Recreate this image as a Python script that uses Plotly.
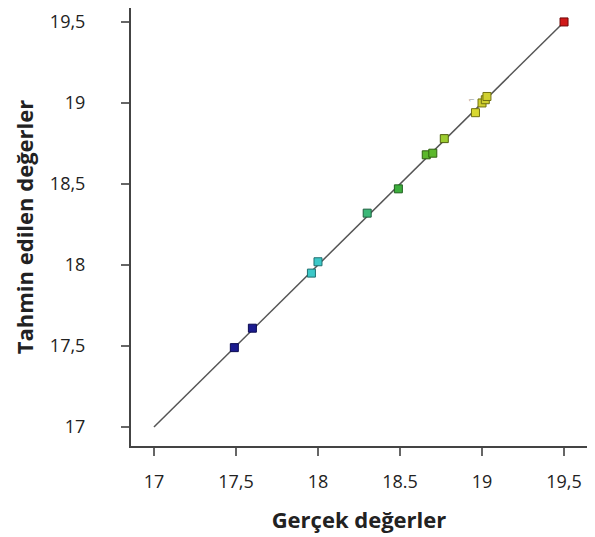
import plotly.graph_objects as go

actual = [17.49, 17.60, 17.96, 18.00, 18.30, 18.49, 18.66, 18.70, 18.77, 18.96, 19.00, 19.02, 19.03, 19.50]
predicted = [17.49, 17.61, 17.95, 18.02, 18.32, 18.47, 18.68, 18.69, 18.78, 18.94, 19.00, 19.02, 19.04, 19.50]
point_colors = ["#1c1c8f", "#1c1c8f", "#3cc8c8", "#3cc8c8", "#3cb878", "#3cae3c", "#5cb82c",
                "#5cb82c", "#9ccc30", "#d8d830", "#d0d030", "#d0d030", "#d0d030", "#d01818"]
edge_colors = ["#0a0a50", "#0a0a50", "#207070", "#207070", "#206040", "#206020", "#306010",
               "#306010", "#506010", "#707010", "#707010", "#707010", "#707010", "#700808"]

line_x = [17, 19.5]
line_y = [17, 19.5]

x_tickvals = [17, 17.5, 18, 18.5, 19, 19.5]
x_ticktext = ["17", "17,5", "18", "18.5", "19", "19,5"]
y_tickvals = [17, 17.5, 18, 18.5, 19, 19.5]
y_ticktext = ["17", "17,5", "18", "18,5", "19", "19,5"]

fig = go.Figure()
fig.add_trace(go.Scatter(x=line_x, y=line_y, mode="lines",
                         line=dict(color="#555555", width=1.5), showlegend=False, hoverinfo="skip"))
fig.add_trace(go.Scatter(x=actual, y=predicted, mode="markers",
                         marker=dict(symbol="square", size=8, color=point_colors,
                                     line=dict(color=edge_colors, width=1)),
                         showlegend=False))

fig.add_annotation(x=18.93, y=19.02, text="1", showarrow=False,
                   font=dict(size=8, color="#888888"), textangle=-90)

font_family = "'Open Sans', Lato, sans-serif"
fig.update_layout(
    width=595, height=537,
    margin=dict(l=123, r=16, t=0, b=99, autoexpand=False),
    paper_bgcolor="white", plot_bgcolor="white",
    font=dict(family=font_family, color="#222222"),
    xaxis=dict(range=[16.86, 19.64], tickvals=x_tickvals, ticktext=x_ticktext,
               showgrid=False, zeroline=False, showline=True, mirror=True,
               linecolor="#444444", linewidth=2, ticks="outside", ticklen=8,
               tickcolor="#666666", tickwidth=2, automargin=False,
               tickfont=dict(size=18, color="#222222"), ticklabelstandoff=10,
               title=dict(text="<b>Gerçek değerler</b>", font=dict(size=22, color="#222222"), standoff=21)),
    yaxis=dict(range=[16.883, 19.586], tickvals=y_tickvals, ticktext=y_ticktext,
               showgrid=False, zeroline=False, showline=True, mirror=True,
               linecolor="#444444", linewidth=2, ticks="outside", ticklen=8,
               tickcolor="#666666", tickwidth=2, automargin=False,
               tickfont=dict(size=18, color="#222222"), ticklabelstandoff=32,
               title=dict(text="<b>Tahmin edilen değerler</b>", font=dict(size=22, color="#222222"), standoff=10)),
)

fig.write_html("out.html")
